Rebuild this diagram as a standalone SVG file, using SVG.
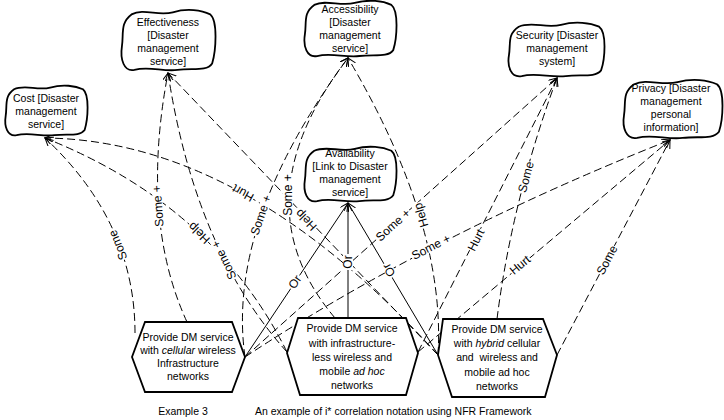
<svg xmlns="http://www.w3.org/2000/svg" xmlns:xlink="http://www.w3.org/1999/xlink" width="724" height="420" viewBox="0 0 724 420">
<style>
  .sg { fill: #fff; stroke: #000; stroke-width: 1.8; vector-effect: non-scaling-stroke; }
  .hex { fill: #fff; stroke: #000; stroke-width: 1.8; }
  .t { font-family: "Liberation Sans", Arial, sans-serif; font-size: 10.5px; fill: #000; text-anchor: middle; }
  .dl { fill: none; stroke: #000; stroke-width: 1; stroke-dasharray: 8 4; marker-end: url(#arr); }
  .sl { fill: none; stroke: #000; stroke-width: 1; marker-end: url(#arr); }
  .lb { font-family: "Liberation Sans", Arial, sans-serif; font-size: 12px; fill: #000; text-anchor: middle; }
  .bg { fill: #fff; }
</style>
<defs>
  <marker id="arr" markerUnits="userSpaceOnUse" markerWidth="10" markerHeight="10" refX="8" refY="4" orient="auto">
    <path d="M0,0 L8,4 L0,8" fill="none" stroke="#000" stroke-width="1" stroke-dasharray="none"/>
  </marker>
  <path id="cloud" class="sg" d="M12,6 C25,0 40,8 55,4 C70,0 85,2 94,6 C102,12 100,40 96,52 C90,60 75,56 60,58 C45,60 30,54 15,58 C4,60 0,48 2,36 C4,24 0,14 12,6 Z"/>
</defs>
<rect width="724" height="420" fill="#fff"/>

<g id="connectors">
  <path class="dl" d="M135,333 Q135,222 45,138"/>
  <path class="dl" d="M187,322 Q140,220 168,73"/>
  <path class="dl" d="M287,352 Q214,205 45,138"/>
  <path class="dl" d="M287,352 Q195,250 168,73"/>
  <path class="dl" d="M438,355 Q244,140 45,138"/>
  <path class="dl" d="M438,355 L168,73"/>
  <path class="dl" d="M245,357 Q226,223 348,58"/>
  <path class="dl" d="M335,318 Q237,202 348,58"/>
  <path class="dl" d="M438,355 Q446,224 348,58"/>
  <path class="dl" d="M245,357 L557,78"/>
  <path class="dl" d="M418,352 L557,78"/>
  <path class="dl" d="M497,319 Q512,200 557,78"/>
  <path class="dl" d="M245,357 Q430,235 670,140"/>
  <path class="dl" d="M418,352 L670,140"/>
  <path class="dl" d="M557,355 L670,140"/>
  <path class="sl" d="M245,357 L348,203"/>
  <path class="sl" d="M348,318 L348,203"/>
  <path class="sl" d="M438,355 L348,203"/>

  <g transform="translate(118,245) rotate(-112)"><rect class="bg" x="-16" y="-5" width="32" height="10"/><text class="lb" dy="4">Some</text></g>
  <g transform="translate(158,206) rotate(-94)"><rect class="bg" x="-22" y="-5" width="44" height="10"/><text class="lb" dy="4">Some +</text></g>
  <g transform="translate(199,233) rotate(-136)"><rect class="bg" x="-13" y="-5" width="26" height="10"/><text class="lb" dy="4">Help</text></g>
  <g transform="translate(224,260) rotate(-116)"><rect class="bg" x="-22" y="-5" width="44" height="10"/><text class="lb" dy="4">Some +</text></g>
  <g transform="translate(243,193) rotate(-151)"><rect class="bg" x="-12" y="-5" width="24" height="10"/><text class="lb" dy="4">Hurt</text></g>
  <g transform="translate(306,220) rotate(-134)"><rect class="bg" x="-13" y="-5" width="26" height="10"/><text class="lb" dy="4">Help</text></g>
  <g transform="translate(261,215) rotate(-71)"><rect class="bg" x="-22" y="-5" width="44" height="10"/><text class="lb" dy="4">Some +</text></g>
  <g transform="translate(288,195) rotate(-90)"><rect class="bg" x="-22" y="-5" width="44" height="10"/><text class="lb" dy="4">Some +</text></g>
  <g transform="translate(421,215) rotate(-107)"><rect class="bg" x="-13" y="-5" width="26" height="10"/><text class="lb" dy="4">Help</text></g>
  <g transform="translate(393,225) rotate(-42)"><rect class="bg" x="-22" y="-5" width="44" height="10"/><text class="lb" dy="4">Some +</text></g>
  <g transform="translate(476,240) rotate(-63)"><rect class="bg" x="-12" y="-5" width="24" height="10"/><text class="lb" dy="4">Hurt</text></g>
  <g transform="translate(526,177) rotate(-75)"><rect class="bg" x="-16" y="-5" width="32" height="10"/><text class="lb" dy="4">Some</text></g>
  <g transform="translate(431,247) rotate(-27)"><rect class="bg" x="-22" y="-5" width="44" height="10"/><text class="lb" dy="4">Some +</text></g>
  <g transform="translate(520,265) rotate(-40)"><rect class="bg" x="-12" y="-5" width="24" height="10"/><text class="lb" dy="4">Hurt</text></g>
  <g transform="translate(607,260) rotate(-62)"><rect class="bg" x="-16" y="-5" width="32" height="10"/><text class="lb" dy="4">Some</text></g>
  <g transform="translate(295,282) rotate(-56)"><rect class="bg" x="-8" y="-5" width="16" height="10"/><text class="lb" dy="4">Or</text></g>
  <g transform="translate(348,262) rotate(-90)"><rect class="bg" x="-8" y="-5" width="16" height="10"/><text class="lb" dy="4">Or</text></g>
  <g transform="translate(389,270) rotate(-121)"><rect class="bg" x="-8" y="-5" width="16" height="10"/><text class="lb" dy="4">Or</text></g>
</g>

<g id="cost">
  <use href="#cloud" transform="translate(4,84) scale(0.84,0.883)"/>
  <text class="t" x="46" y="102">Cost [Disaster</text>
  <text class="t" x="46" y="115">management</text>
  <text class="t" x="46" y="128">service]</text>
</g>
<g id="effectiveness">
  <use href="#cloud" transform="translate(120,8) scale(0.96,1.067)"/>
  <text class="t" x="168" y="26">Effectiveness</text>
  <text class="t" x="168" y="39">[Disaster</text>
  <text class="t" x="168" y="52">management</text>
  <text class="t" x="168" y="65">service]</text>
</g>
<g id="accessibility">
  <use href="#cloud" transform="translate(303,-1) scale(0.94,0.983)"/>
  <text class="t" x="350" y="13">Accessibility</text>
  <text class="t" x="350" y="26">[Disaster</text>
  <text class="t" x="350" y="39">management</text>
  <text class="t" x="350" y="52">service]</text>
</g>
<g id="availability">
  <use href="#cloud" transform="translate(303,145) scale(0.94,0.967)"/>
  <text class="t" x="350" y="157">Availability</text>
  <text class="t" x="350" y="170">[Link to Disaster</text>
  <text class="t" x="350" y="183">management</text>
  <text class="t" x="350" y="196">service]</text>
</g>
<g id="security">
  <use href="#cloud" transform="translate(507,21) scale(0.98,0.95)"/>
  <text class="t" x="557" y="39">Security [Disaster</text>
  <text class="t" x="557" y="52">management</text>
  <text class="t" x="557" y="65">system]</text>
</g>
<g id="privacy">
  <use href="#cloud" transform="translate(622,78) scale(1.01,1.033)"/>
  <text class="t" x="671" y="92">Privacy [Disaster</text>
  <text class="t" x="671" y="105">management</text>
  <text class="t" x="671" y="118">personal</text>
  <text class="t" x="671" y="131">information]</text>
</g>

<g id="cellular">
  <polygon class="hex" points="145,322 232,322 245,357 232,392 145,392 132,357"/>
  <text class="t" x="188" y="341">Provide DM service</text>
  <text class="t" x="188" y="354">with <tspan font-style="italic">cellular</tspan> wireless</text>
  <text class="t" x="188" y="367">Infrastructure</text>
  <text class="t" x="188" y="380">networks</text>
</g>
<g id="adhoc">
  <polygon class="hex" points="298,318 406,318 418,353 406,395 300,395 287,353"/>
  <text class="t" x="352" y="332">Provide DM service</text>
  <text class="t" x="352" y="347">with infrastructure-</text>
  <text class="t" x="352" y="361">less wireless and</text>
  <text class="t" x="352" y="375">mobile <tspan font-style="italic">ad hoc</tspan></text>
  <text class="t" x="352" y="389">networks</text>
</g>
<g id="hybrid">
  <polygon class="hex" points="443,319 543,319 557,355 545,397 452,397 438,355"/>
  <text class="t" x="497" y="333">Provide DM service</text>
  <text class="t" x="497" y="347">with <tspan font-style="italic">hybrid</tspan> cellular</text>
  <text class="t" x="497" y="361" xml:space="preserve">and  wireless and</text>
  <text class="t" x="497" y="376">mobile ad hoc</text>
  <text class="t" x="497" y="390">networks</text>
</g>

<g id="caption">
  <text class="t" x="183" y="415">Example 3</text>
  <text class="t" x="255" y="415" style="text-anchor:start">An example of i* correlation notation using NFR Framework</text>
</g>
</svg>
